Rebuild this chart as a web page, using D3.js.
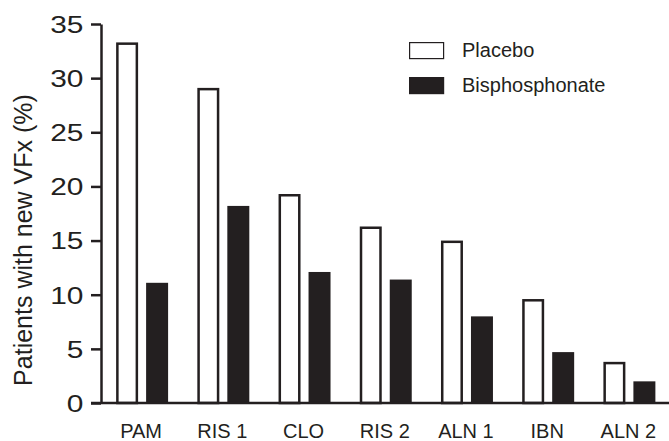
<!DOCTYPE html>
<html>
<head>
<meta charset="utf-8">
<script src="https://cdn.jsdelivr.net/npm/d3@7"></script>
<style>
	body { margin: 0; background: #fff; }
	text { font-family: "Liberation Sans", Arial, sans-serif; fill: #231f20; }
</style>
</head>
<body>
<script>
// data
var categories = ["PAM", "RIS 1", "CLO", "RIS 2", "ALN 1", "IBN", "ALN 2"];
var seriesNames = ["Placebo", "Bisphosphonate"];
var placebo = [33.3, 29.1, 19.3, 16.3, 15.0, 9.6, 3.8];
var bisphosphonate = [11.1, 18.2, 12.1, 11.4, 8.0, 4.7, 2.0];
var yTicks = [0, 5, 10, 15, 20, 25, 30, 35];

var ink = "#231f20";
var width = 669, height = 441;

var svg = d3.select("body").append("svg")
	.attr("width", width)
	.attr("height", height);

// scales
var x0 = d3.scaleBand()
	.domain(categories)
	.range([101.5, 670])
	.paddingInner(0.36)
	.paddingOuter(0.18);

var x1 = d3.scaleBand()
	.domain(seriesNames)
	.range([0, x0.bandwidth()])
	.paddingInner(0.267);

var y = d3.scaleLinear()
	.domain([0, 35])
	.range([403, 24]);

var rows = categories.map(function(c, i) {
	return { cat: c, values: [
		{ key: "Placebo", v: placebo[i] },
		{ key: "Bisphosphonate", v: bisphosphonate[i] }
	] };
});

// bars
var groups = svg.append("g").selectAll("g")
	.data(rows)
	.enter().append("g")
	.attr("transform", function(d) { return "translate(" + x0(d.cat) + ",0)"; });

var sw = 2.5;
groups.selectAll("rect")
	.data(function(d) { return d.values; })
	.enter().append("rect")
	.attr("x", function(d) { return d.key == "Placebo" ? x1(d.key) + sw / 2 : x1(d.key); })
	.attr("width", function(d) { return d.key == "Placebo" ? x1.bandwidth() - sw : x1.bandwidth(); })
	.attr("y", function(d) { return d.key == "Placebo" ? y(d.v) + sw / 2 : y(d.v); })
	.attr("height", function(d) { return d.key == "Placebo" ? y(0) - y(d.v) - sw / 2 : y(0) - y(d.v); })
	.attr("fill", function(d) { return d.key == "Placebo" ? "#fff" : ink; })
	.attr("stroke", function(d) { return d.key == "Placebo" ? ink : "none"; })
	.attr("stroke-width", sw);

// y axis
var yAxis = svg.append("g")
	.attr("transform", "translate(101,0)")
	.call(d3.axisLeft(y).tickValues(yTicks).tickSize(10).tickSizeOuter(0));

yAxis.select(".domain").attr("stroke", ink).attr("stroke-width", 2.5);
yAxis.selectAll(".tick line").attr("stroke", ink).attr("stroke-width", 2.5);
yAxis.selectAll(".tick text")
	.attr("x", -13.5)
	.attr("dy", "0.36em")
	.attr("transform", "scale(1.3,1)")
	.style("font-size", "23px")
	.style("font-family", "'Liberation Sans', Arial, sans-serif")
	.attr("fill", ink);

// x axis baseline
svg.append("line")
	.attr("x1", 91).attr("x2", 669)
	.attr("y1", y(0)).attr("y2", y(0))
	.attr("stroke", ink)
	.attr("stroke-width", 2.5);

// category labels
svg.append("g").selectAll("text")
	.data(categories)
	.enter().append("text")
	.attr("x", function(d) { return x0(d) + x0.bandwidth() / 2 - 1; })
	.attr("y", 438)
	.attr("text-anchor", "middle")
	.style("font-size", "20px")
	.text(function(d) { return d; });

// y axis title
svg.append("text")
	.attr("transform", "translate(32,240) rotate(-90)")
	.attr("text-anchor", "middle")
	.style("font-size", "25px")
	.text("Patients with new VFx (%)");

// legend
var legend = svg.append("g").selectAll("g")
	.data(seriesNames)
	.enter().append("g")
	.attr("transform", function(d, i) { return "translate(409," + (42 + i * 35) + ")"; });

legend.append("rect")
	.attr("x", 0.6).attr("y", 0.6)
	.attr("width", 34).attr("height", 16)
	.attr("fill", function(d) { return d == "Placebo" ? "#fff" : ink; })
	.attr("stroke", ink)
	.attr("stroke-width", 1.2);

legend.append("text")
	.attr("x", 53)
	.attr("y", 15)
	.style("font-size", "20px")
	.text(function(d) { return d; });
</script>
</body>
</html>
